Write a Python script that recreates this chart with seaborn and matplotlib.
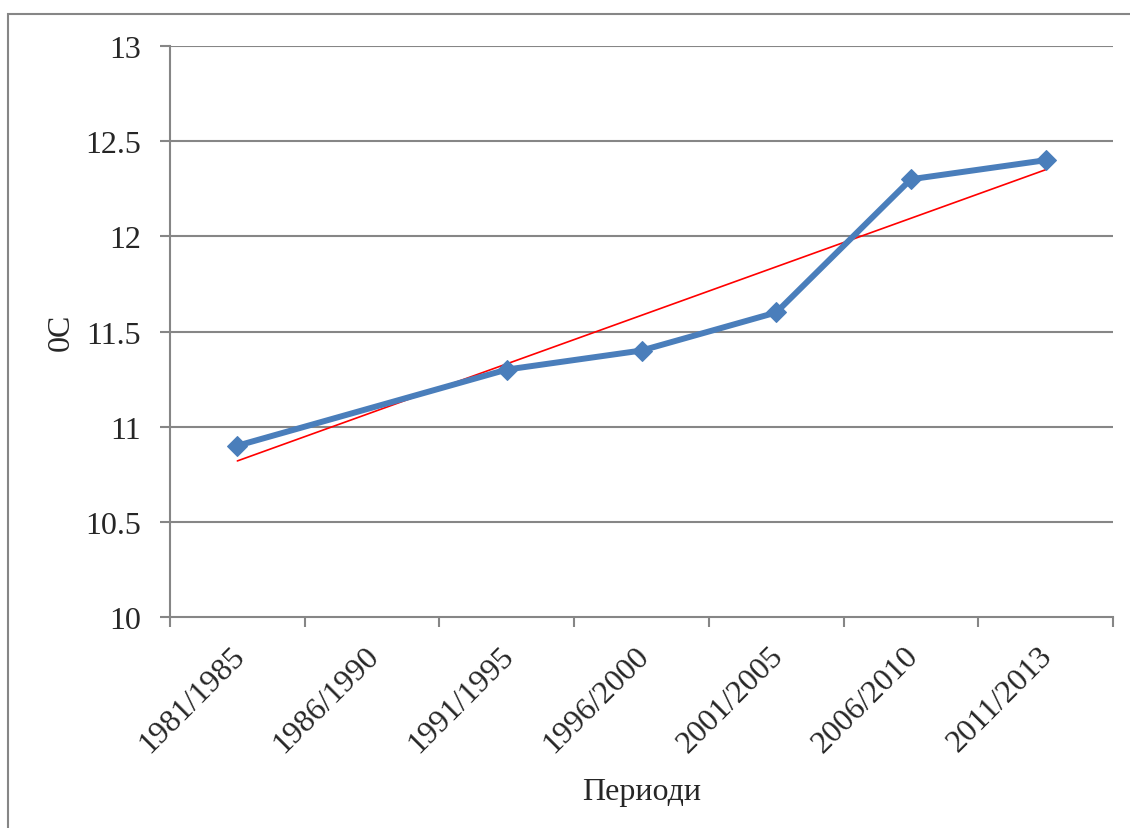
import numpy as np
import pandas as pd
import matplotlib
matplotlib.use("Agg")
import matplotlib.pyplot as plt
import seaborn as sns
from matplotlib.patches import Rectangle

# ---- data ----
periods = ["1981/1985", "1986/1990", "1991/1995", "1996/2000",
           "2001/2005", "2006/2010", "2011/2013"]
temps = [10.9, np.nan, 11.3, 11.4, 11.6, 12.3, 12.4]
trend_start = 10.82
trend_end = 12.35
y_ticks = [10, 10.5, 11, 11.5, 12, 12.5, 13]
y_label = "0C"
x_label = "Периоди"

sns.set_theme(style="white")
plt.rcParams["font.family"] = ["Liberation Serif", "DejaVu Serif"]

fig = plt.figure(figsize=(11.30, 8.29), dpi=100)
ax = fig.add_axes([170 / 1130, 1 - 618 / 829, (1113 - 170) / 1130, (618 - 47) / 829])

# outer chart border
fig.patches.append(Rectangle((8 / 1130, -0.1), 1.2, 1 - 15 / 829 + 0.1,
                             transform=fig.transFigure, fill=False,
                             edgecolor="#868686", linewidth=1.5, zorder=-1))

df = pd.DataFrame({"pos": np.arange(len(periods)), "temp": temps}).dropna()

grid_c = "#868686"
for yv in y_ticks[1:]:
    ax.axhline(yv, color=grid_c, linewidth=1.5, zorder=0)

# trend line
ax.plot([0, len(periods) - 1], [trend_start, trend_end], color="#FF0000",
        linewidth=1.2, zorder=2)

sns.lineplot(data=df, x="pos", y="temp", ax=ax, color="#4A7EBB",
             linewidth=4.3, marker="D", markersize=10.5,
             markeredgecolor="#4A7EBB", zorder=3)

ax.set_xlim(-0.5, len(periods) - 0.5)
ax.set_ylim(10, 13)
ax.set_yticks(y_ticks)
ax.set_yticklabels([f"{v:g}" for v in y_ticks], fontsize=23)

# category labels (slightly left of center like the original), tick marks at boundaries
ax.set_xticks(np.arange(len(periods)) - 0.055)
ax.set_xticklabels(periods, fontsize=23, rotation=45, ha="right",
                   va="top", rotation_mode="anchor")
ax.set_xticks(np.arange(-0.5, len(periods)), minor=True)
ax.tick_params(axis="x", which="major", length=0, pad=17)
ax.tick_params(axis="x", which="minor", length=7, width=1.5, color=grid_c,
               direction="out", bottom=True)
ax.tick_params(axis="y", which="major", length=7, width=1.5, color=grid_c,
               direction="out", left=True, pad=14)

for s in ["top", "right"]:
    ax.spines[s].set_visible(False)
for s in ["left", "bottom"]:
    ax.spines[s].set_color(grid_c)
    ax.spines[s].set_linewidth(1.5)

ax.set_xlabel(x_label, fontsize=23)
ax.set_ylabel(y_label, fontsize=23)
ax.xaxis.set_label_coords(0.5, -0.28)
ax.yaxis.set_label_coords(-0.1, 0.5)

fig.savefig("out.png", dpi=100)
